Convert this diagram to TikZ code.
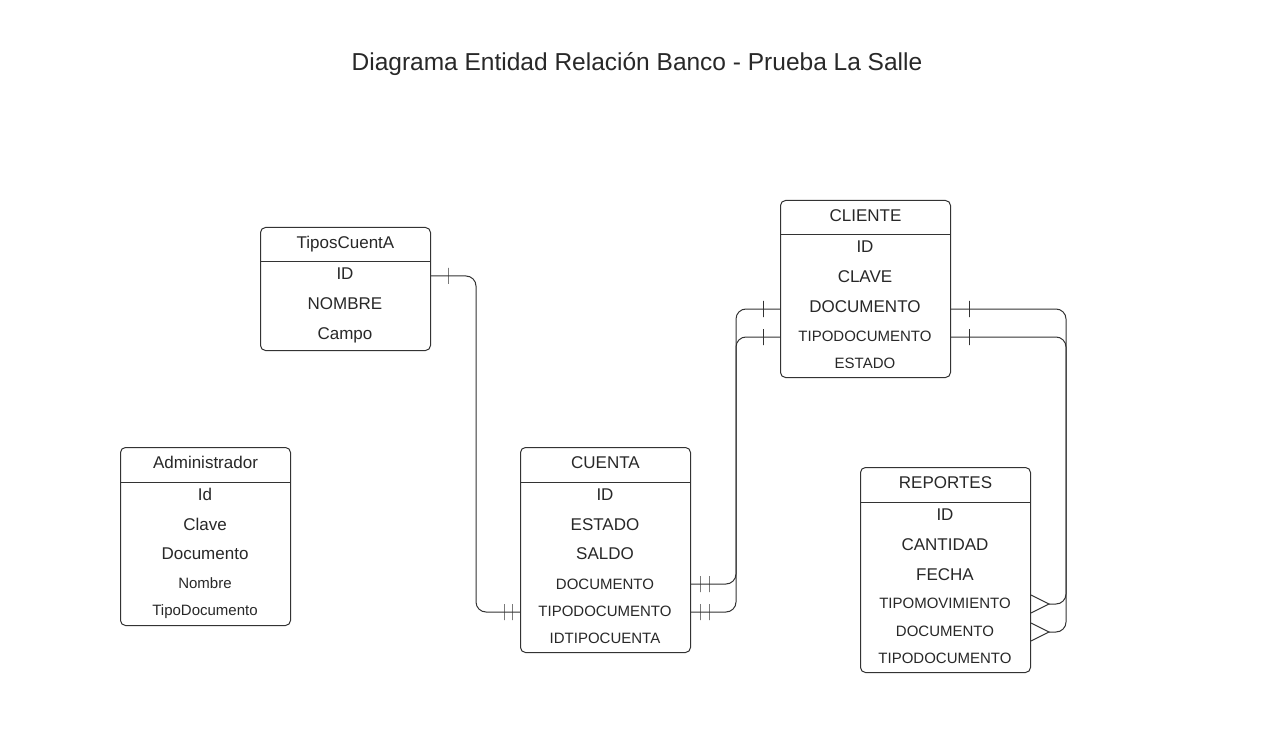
\documentclass[tikz,border=0pt]{standalone}
\usepackage{fontspec}
\setmainfont{Liberation Sans}
\usepackage{tikz}
\usetikzlibrary{calc}
\definecolor{line_gray}{RGB}{51,51,51}
\definecolor{text_gray}{RGB}{40,40,40}

\begin{document}
\begin{tikzpicture}[x=1pt,y=-1pt,line width=1pt,color=line_gray]
    \tikzstyle{entity}=[draw=line_gray,rounded corners=5pt,minimum width=170pt,anchor=north west,inner sep=0pt]
    \tikzstyle{head}=[minimum width=170pt,minimum height=34pt,anchor=north west,inner sep=0pt,text=text_gray,text height=0.72em,text depth=0pt,font=\fontsize{17}{20}\selectfont]
    \tikzstyle{field}=[text=text_gray,inner sep=0pt,yshift=-3pt,text height=0.72em,text depth=0pt,font=\fontsize{17}{20}\selectfont]
    \tikzstyle{fieldsm}=[style=field,font=\fontsize{15}{18}\selectfont]
    \tikzstyle{bar}=[draw=line_gray,sharp corners,inner sep=0pt,minimum width=0pt,minimum height=16pt]
    \tikzstyle{link}=[draw=line_gray,rounded corners=10pt]

    \fill[white] (0,0) rectangle (1274,743);
    \useasboundingbox (0,0) rectangle (1274,743);

    \node[text=text_gray,text height=0.72em,text depth=0pt,font=\fontsize{24.5}{28}\selectfont] (title) at (637,67) {Diagrama Entidad Relación Banco - Prueba La Salle};

    % TiposCuentA
    \node[entity,minimum height=123pt] (tc) at (260,227) {};
    \node[head] (tch) at (260,227) {TiposCuentA};
    \draw (tch.south west) -- (tch.south east);
    \node[field] (tcid)  at (345,273) {ID};
    \node[field] (tcnom) at (345,303) {NOMBRE};
    \node[field] (tccam) at (345,333) {Campo};

    % Administrador
    \node[entity,minimum height=178pt] (ad) at (120,447) {};
    \node[head] (adh) at (120,447) {Administrador};
    \draw (adh.south west) -- (adh.south east);
    \node[field]   (adid)  at (205,494) {Id};
    \node[field]   (adcl)  at (205,524) {Clave};
    \node[field]   (addoc) at (205,553) {Documento};
    \node[fieldsm] (adnom) at (205,582) {Nombre};
    \node[fieldsm] (adtd)  at (205,609) {TipoDocumento};

    % CUENTA
    \node[entity,minimum height=205pt] (cu) at (520,447) {};
    \node[head] (cuh) at (520,447) {CUENTA};
    \draw (cuh.south west) -- (cuh.south east);
    \node[field]   (cuid)  at (605,494) {ID};
    \node[field]   (cuest) at (605,524) {ESTADO};
    \node[field]   (cusal) at (605,553) {SALDO};
    \node[fieldsm] (cud)   at (605,583) {DOCUMENTO};
    \node[fieldsm] (cutd)  at (605,610) {TIPODOCUMENTO};
    \node[fieldsm] (cutc)  at (605,637) {IDTIPOCUENTA};

    % CLIENTE
    \node[entity,minimum height=177pt] (cl) at (780,200) {};
    \node[head] (clh) at (780,200) {CLIENTE};
    \draw (clh.south west) -- (clh.south east);
    \node[field]   (clid)  at (865,246) {ID};
    \node[field]   (clcl)  at (865,276) {CLAVE};
    \node[field]   (cld)   at (865,306) {DOCUMENTO};
    \node[fieldsm] (cltd)  at (865,335) {TIPODOCUMENTO};
    \node[fieldsm] (clest) at (865,362) {ESTADO};

    % REPORTES
    \node[entity,minimum height=205pt] (rp) at (860,467) {};
    \node[head] (rph) at (860,467) {REPORTES};
    \draw (rph.south west) -- (rph.south east);
    \node[field]   (rpid)  at (945,514) {ID};
    \node[field]   (rpcan) at (945,544) {CANTIDAD};
    \node[field]   (rpfec) at (945,574) {FECHA};
    \node[fieldsm] (rtm)   at (945,602) {TIPOMOVIMIENTO};
    \node[fieldsm] (rd)    at (945,630) {DOCUMENTO};
    \node[fieldsm] (rtd)   at (945,657) {TIPODOCUMENTO};

    % TiposCuentA - CUENTA
    \coordinate (tcidR) at (tcid -| tc.east);
    \coordinate (cutdL) at ($(cutd -| cu.west)+(0,-1)$);
    \draw[link] (tcidR) -- ++(17,0) node[bar]{} -- ++(28,0) |- (cutdL);
    \path (cutdL) ++(-8,0) node[bar]{} ++(-8,0) node[bar]{};

    % CUENTA - CLIENTE
    \coordinate (cudR)  at ($(cud -| cu.east)+(0,-2)$);
    \coordinate (cutdR) at ($(cutd -| cu.east)+(0,-1)$);
    \coordinate (cldL)  at (cld -| cl.west);
    \coordinate (cltdL) at ($(cltd -| cl.west)+(0,-1)$);
    \draw[link] (cudR) -- ++(45,0) |- (cldL);
    \draw[link] (cutdR) -- ++(45,0) |- (cltdL);
    \path (cudR) ++(9,0) node[bar]{} ++(9,0) node[bar]{};
    \path (cutdR) ++(9,0) node[bar]{} ++(9,0) node[bar]{};
    \path (cldL) ++(-17,0) node[bar]{};
    \path (cltdL) ++(-17,0) node[bar]{};

    % CLIENTE - REPORTES
    \coordinate (cldR)  at (cld -| cl.east);
    \coordinate (cltdR) at ($(cltd -| cl.east)+(0,-1)$);
    \coordinate (rtmR)  at ($(rtm -| rp.east)+(0,-1)$);
    \coordinate (rdR)   at ($(rd -| rp.east)+(0,-1)$);
    \draw[link] (cldR) -- ++(18,0) node[bar]{} -- ++(97,0) |- ($(rtmR)+(18,0)$);
    \draw[link] (cltdR) -- ++(18,0) node[bar]{} -- ++(97,0) |- ($(rdR)+(18,0)$);
    \draw (rtmR) ++(0,-9) -- ++(18,9) -- ++(-18,9);
    \draw (rdR) ++(0,-9) -- ++(18,9) -- ++(-18,9);
\end{tikzpicture}
\end{document}
